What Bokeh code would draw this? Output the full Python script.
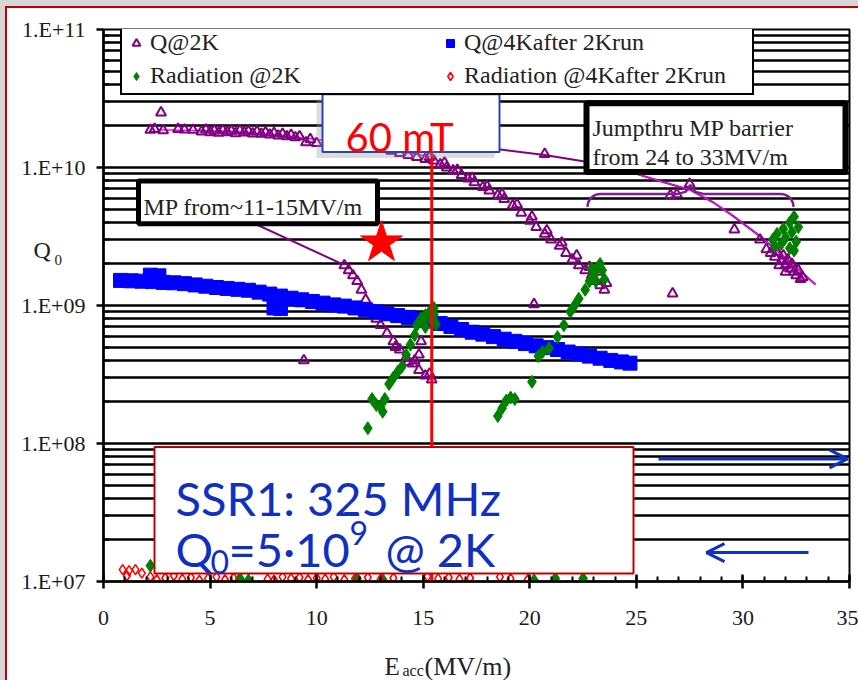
import numpy as np
from bokeh.plotting import figure
from bokeh.models import (Range1d, FixedTicker, SingleIntervalTicker, CustomJSTickFormatter,
                          BoxAnnotation, Label, Arrow, OpenHead, Legend, LegendItem)
from bokeh.embed import file_html
from bokeh.resources import INLINE

# ---------------- data ----------------
y_ticks = [1e7, 1e8, 1e9, 1e10, 1e11]
y_tick_labels = ["1.E+07", "1.E+08", "1.E+09", "1.E+10", "1.E+11"]

# Q @ 2K (purple open triangles)
q2k_plateau_E = [2.2, 2.4, 2.7, 2.8, 3.5, 3.8, 4.2, 4.6, 4.8, 5.0, 5.2, 5.4, 5.6, 5.8, 6.0, 6.2, 6.4,
                 6.6, 6.8, 7.0, 7.2, 7.4, 7.6, 7.8, 8.0, 8.2, 8.4, 8.6, 8.8, 9.0, 9.2, 9.5, 9.7, 10.0,
                 10.5, 11.5, 12.5, 13.5, 13.9, 14.3, 14.7, 15.1]
q2k_plateau_Q = [1.87e10, 1.9e10, 2.5e10, 1.86e10, 1.9e10, 1.88e10, 1.87e10, 1.82e10, 1.88e10, 1.8e10,
                 1.85e10, 1.78e10, 1.86e10, 1.8e10, 1.84e10, 1.77e10, 1.85e10, 1.79e10, 1.83e10, 1.76e10,
                 1.82e10, 1.75e10, 1.8e10, 1.73e10, 1.78e10, 1.7e10, 1.75e10, 1.68e10, 1.72e10, 1.65e10,
                 1.68e10, 1.52e10, 1.6e10, 1.5e10,
                 1.52e10, 1.46e10, 1.4e10, 1.32e10, 1.27e10, 1.23e10, 1.19e10, 1.15e10]
q2k_drop_E = [15.3, 15.5, 15.8, 16.1, 16.4, 16.8, 17.1, 17.4, 17.8, 18.1, 18.5, 18.8, 19.2, 19.6, 20.0,
              20.3, 20.7, 21.0, 21.4, 21.7, 22.0, 22.3, 22.6, 22.9, 23.1, 23.3, 23.5, 23.6, 23.2,
              16.0, 16.6, 17.3, 18.0, 18.7, 19.4, 20.1, 20.8, 21.5, 22.2, 22.8]
q2k_drop_Q = [1.19e10, 1.12e10, 1.05e10, 1.0e10, 9.5e9, 8.8e9, 8.3e9, 7.8e9, 7.2e9, 6.8e9, 6.3e9, 5.9e9,
              5.3e9, 4.7e9, 4.1e9, 3.7e9, 3.3e9, 3.0e9, 2.7e9, 2.4e9, 2.15e9, 1.95e9, 1.8e9, 1.65e9,
              1.5e9, 1.4e9, 1.3e9, 1.45e9, 1.75e9,
              1.08e10, 9.6e9, 8.4e9, 7.3e9, 6.4e9, 5.4e9, 4.4e9, 3.5e9, 2.85e9, 2.3e9, 1.9e9]
q2k_mp_E = [11.3, 11.5, 11.7, 11.9, 12.1, 12.3, 12.6, 12.8, 13.0, 13.3, 13.6, 13.9, 14.2, 14.5, 14.8,
            15.1, 15.4, 15.3, 14.9, 14.8, 14.6, 13.7, 14.3, 9.4, 20.2, 26.7]
q2k_mp_Q = [1.95e9, 1.8e9, 1.65e9, 1.5e9, 1.3e9, 1.1e9, 9.0e8, 8.0e8, 7.2e8, 6.3e8, 5.5e8, 4.8e8, 4.2e8,
            3.8e8, 3.4e8, 3.1e8, 2.9e8, 3.2e8, 5.5e8, 4.4e8, 4.0e8, 5.0e8, 3.9e8, 4.0e8, 1.02e9, 1.22e9]
q2k_jump_E = [20.7, 26.6, 26.9, 27.5, 29.6, 30.8, 31.1, 31.3, 31.5, 31.6, 31.8, 31.9, 32.0, 32.1, 32.2,
              32.3, 32.4, 32.5, 32.6, 32.7, 32.8, 32.0, 31.7]
q2k_jump_Q = [1.25e10, 6.3e9, 6.4e9, 7.6e9, 3.55e9, 3.0e9, 2.55e9, 2.4e9, 2.25e9, 2.45e9, 2.1e9, 2.3e9,
              1.95e9, 2.15e9, 1.85e9, 2.0e9, 1.75e9, 1.65e9, 1.8e9, 1.55e9, 1.6e9, 1.75e9, 1.95e9]

# Q @ 4K after 2K run (blue squares)
q4k_E = [0.8, 1.3, 1.8, 2.3, 2.8, 3.3, 3.8, 4.3, 4.8, 5.3, 5.8, 6.3, 6.8, 7.3, 7.8, 8.3, 8.8, 9.3, 9.8,
         10.3, 10.8, 11.3, 11.8, 12.3, 12.8, 13.3, 13.8, 14.3, 14.8, 15.3, 15.8, 16.3, 16.8, 17.3, 17.8,
         18.3, 18.8, 19.3, 19.8, 20.3, 20.8, 21.3, 21.8, 22.3, 22.8, 23.3, 23.8, 24.3, 24.7,
         2.2, 2.6, 8.0, 8.3]
q4k_Q = [1.52e9, 1.51e9, 1.5e9, 1.49e9, 1.47e9, 1.46e9, 1.44e9, 1.41e9, 1.38e9, 1.35e9, 1.33e9, 1.31e9,
         1.29e9, 1.25e9, 1.21e9, 1.17e9, 1.13e9, 1.1e9, 1.07e9, 1.04e9, 1.01e9, 9.9e8, 9.6e8, 9.3e8,
         9.0e8, 8.7e8, 8.45e8, 8.2e8, 7.95e8, 7.7e8, 7.4e8, 7.05e8, 6.7e8, 6.4e8, 6.2e8, 5.95e8, 5.7e8,
         5.5e8, 5.3e8, 5.1e8, 4.95e8, 4.8e8, 4.6e8, 4.45e8, 4.3e8, 4.15e8, 4.0e8, 3.9e8, 3.82e8,
         1.66e9, 1.64e9, 9.6e8, 9.5e8]

# Radiation @ 2K (green diamonds)
rad2k_E = [2.2, 6.4, 6.8, 11.9, 13.1, 20.2, 21.2, 22.5,
           12.4, 12.6, 12.8, 13.0, 13.2, 13.1, 13.4, 13.6, 13.8, 14.0, 14.2, 14.4, 14.6, 14.7, 14.9,
           15.1, 15.3, 15.5, 15.6, 15.4, 15.1, 15.5,
           18.5, 18.7, 18.9, 19.1, 19.3, 20.1, 20.4, 20.6, 20.9, 21.3, 21.6, 21.9, 22.1, 22.3, 22.6,
           22.8, 23.0, 23.2, 23.4, 23.5, 23.1, 22.9, 23.3,
           31.4, 31.6, 31.8, 31.9, 32.0, 32.2, 32.3, 32.4, 32.5, 32.6, 32.2, 31.5, 32.4]
rad2k_Q = [1.3e7, 1.05e7, 1.02e7, 1.05e7, 1.03e7, 1.02e7, 1.05e7, 1.05e7,
           1.29e8, 2.1e8, 1.9e8, 1.85e8, 2.1e8, 1.7e8, 2.7e8, 3.0e8, 3.3e8, 3.6e8, 4.4e8, 5.2e8, 6.1e8,
           7.2e8, 8.0e8, 8.5e8, 9.0e8, 8.6e8, 7.3e8, 7.8e8, 7.0e8, 9.6e8,
           1.58e8, 1.8e8, 2.05e8, 2.15e8, 2.1e8, 2.8e8, 4.3e8, 4.6e8, 4.9e8, 5.9e8, 7.2e8, 9.0e8, 1.0e9,
           1.12e9, 1.3e9, 1.5e9, 1.7e9, 1.9e9, 1.8e9, 1.55e9, 1.5e9, 1.85e9, 2.0e9,
           3.0e9, 3.3e9, 2.8e9, 3.6e9, 3.1e9, 4.0e9, 3.4e9, 4.4e9, 2.9e9, 3.7e9, 2.6e9, 2.7e9, 2.5e9]

# Radiation @ 4K after 2K run (red open diamonds)
rad4k_E = [0.9, 1.2, 1.5, 1.1, 1.8, 2.2, 2.5, 2.9, 3.3, 3.7, 4.1, 4.5, 4.9, 5.3, 5.7, 6.1, 7.7, 8.0,
           8.4, 8.8, 9.2, 9.6, 10.0, 10.4, 10.8, 11.3, 11.8, 12.4, 13.0, 13.6, 15.2, 15.7, 16.2, 16.7,
           17.2, 18.6, 19.1, 19.9]
rad4k_Q = [1.22e7, 1.2e7, 1.22e7, 1.1e7, 1.15e7, 1.08e7, 1.03e7, 1.06e7, 1.1e7, 1.04e7, 1.07e7, 1.02e7,
           1.05e7, 1.08e7, 1.03e7, 1.06e7, 1.04e7, 1.02e7, 1.08e7, 1.05e7, 1.07e7, 1.03e7, 1.06e7,
           1.04e7, 1.08e7, 1.03e7, 1.05e7, 1.07e7, 1.04e7, 1.06e7, 1.09e7, 1.05e7, 1.07e7, 1.04e7,
           1.06e7, 1.08e7, 1.05e7, 1.03e7]

# trend lines through the Q @ 2K points
trend_E = [18.45, 20.7, 22.5, 24.7, 26.25, 27.5, 28.6, 29.5, 30.95, 32.2, 33.4]
trend_Q = [1.36e10, 1.23e10, 1.11e10, 9.3e9, 7.85e9, 6.9e9, 5.6e9, 4.5e9, 3.05e9, 2.08e9, 1.42e9]
plateau_trend_E = [2.5, 6.0, 10.0, 13.0, 15.3]
plateau_trend_Q = [1.88e10, 1.83e10, 1.6e10, 1.38e10, 1.2e10]

mT60_E = 15.4   # Eacc that corresponds to 60 mT

q2k_E = q2k_plateau_E + q2k_drop_E + q2k_mp_E + q2k_jump_E
q2k_Q = q2k_plateau_Q + q2k_drop_Q + q2k_mp_Q + q2k_jump_Q

# ---------------- figure ----------------
PURPLE = "#800080"
BLUE_TXT = "#1030C0"
SERIF = "Liberation Serif"

# page-pixel -> data helpers for decorations (frame: x 103..849, y 27..581 on the page)
FL, FR, FT, FB = 103.0, 849.0, 27.0, 581.0
def X(px):
    return (px - FL) / (FR - FL) * 35.0
def Y(py):
    return 10 ** (11.0 - (py - FT) / (FB - FT) * 4.0)

p = figure(width=858, height=680, x_range=Range1d(0, 35), y_range=Range1d(1e7, 1e11),
           y_axis_type="log", output_backend="svg", toolbar_location=None,
           min_border_left=103, min_border_right=9, min_border_top=27, min_border_bottom=99)
p.styles = {"background-color": "white",
            "box-shadow": "inset 5px 6px 0 0 #d6d6d6, inset 7px 8px 0 0 #C00000"}
p.background_fill_color = "white"
p.border_fill_color = None
p.outline_line_color = "black"
p.outline_line_width = 2

# axes
p.xaxis.ticker = SingleIntervalTicker(interval=5, num_minor_ticks=5)
p.xaxis.axis_line_width = 2.5
p.xaxis.axis_line_color = "black"
p.xaxis.major_tick_line_color = "black"
p.xaxis.major_tick_line_width = 2.5
p.xaxis.minor_tick_line_color = "black"
p.xaxis.minor_tick_line_width = 2
p.xaxis.major_tick_in = 7
p.xaxis.major_tick_out = 7
p.xaxis.minor_tick_in = 5
p.xaxis.minor_tick_out = 0
p.xaxis.major_label_text_font = SERIF
p.xaxis.major_label_text_font_size = "22px"
p.xaxis.major_label_text_color = "#1a1a1a"
p.xaxis.major_label_standoff = 22

y_minor = [m * 10 ** e for e in range(7, 11) for m in range(2, 10)]
p.yaxis.ticker = FixedTicker(ticks=y_ticks, minor_ticks=y_minor)
p.yaxis.formatter = CustomJSTickFormatter(args=dict(labels=y_tick_labels),
                                          code="return labels[Math.round(Math.log10(tick)) - 7];")
p.yaxis.axis_line_width = 2.5
p.yaxis.axis_line_color = "black"
p.yaxis.major_tick_line_color = "black"
p.yaxis.major_tick_line_width = 2.5
p.yaxis.minor_tick_line_color = "black"
p.yaxis.minor_tick_line_width = 2
p.yaxis.major_tick_in = 0
p.yaxis.major_tick_out = 7
p.yaxis.minor_tick_in = 6
p.yaxis.minor_tick_out = 0
p.yaxis.major_label_text_font = SERIF
p.yaxis.major_label_text_font_size = "22px"
p.yaxis.major_label_text_color = "#1a1a1a"
p.yaxis.major_label_standoff = 11

p.xgrid.visible = False
p.ygrid.grid_line_color = "black"
p.ygrid.grid_line_width = 2.4
p.ygrid.minor_grid_line_color = "black"
p.ygrid.minor_grid_line_width = 2.4

# trend lines
p.line(plateau_trend_E, plateau_trend_Q, line_color="#FF00FF", line_width=1.5)
p.line(trend_E, trend_Q, line_color=PURPLE, line_width=2)
p.line(trend_E[2:], trend_Q[2:], line_color="#FF00FF", line_width=1.2)

# series
r_q2k = p.scatter(q2k_E, q2k_Q, marker="triangle", size=10, line_color=PURPLE, line_width=2,
                  fill_color=None)
r_q4k = p.scatter(q4k_E, q4k_Q, marker="square", size=14, line_color="#0000FF", fill_color="#0000FF")
r_r2k = p.scatter(rad2k_E, rad2k_Q, marker="diamond", size=13, line_color="#008000",
                  fill_color="#008000")
r_r4k = p.scatter(rad4k_E, rad4k_Q, marker="diamond", size=10, line_color="#FF0000", line_width=1.6,
                  fill_color=None)

# 60 mT line (from the axis up to the bottom of the "60 mT" box)
p.line([mT60_E, mT60_E], [y_ticks[0] * 0.9, Y(150)], line_color="#FF0000", line_width=3)

# star
p.scatter([X(381)], [Y(241)], marker="star", size=44, line_color="#FF0000", fill_color="#FF0000")

# pointer line from the MP box
p.line([X(250), X(343)], [Y(220), Y(263)], line_color=PURPLE, line_width=2)

# curly brace above the jump region
r = 13.0
pts = [(600 - r * np.cos(t), 205 - r * np.sin(t)) for t in np.linspace(0, np.pi / 2, 9)]
pts += [(677, 192), (685, 190), (690, 183), (695, 190), (703, 192), (780, 192)]
pts += [(780 + r * np.cos(t), 205 - r * np.sin(t)) for t in np.linspace(np.pi / 2, 0, 9)]
p.line([X(a) for a, b in pts], [Y(b) for a, b in pts], line_color="#7B1F8C", line_width=2.5)

# boxes
def box(l, r_, t, b, fill="white", fill_alpha=1.0, line="black", lw=2, line_alpha=1.0):
    p.add_layout(BoxAnnotation(left=X(l), right=X(r_), top=Y(t), bottom=Y(b),
                               fill_color=fill, fill_alpha=fill_alpha, line_color=line,
                               line_width=lw, line_alpha=line_alpha))

box(316, 494, 97, 156, fill="#9a9a9a", fill_alpha=0.35, line_alpha=0)
box(322, 499, 92, 150, line="#2845B5", lw=2)
box(154, 633, 446, 573, line="#C00000", lw=2)
box(138, 377, 179, 222, lw=5)
box(586, 845, 101, 170, lw=6)

def lab(px, py, text, font, size, color="#222222", place="center"):
    p.add_layout(Label(x=X(px), y=Y(py), text=text, text_font=font, text_font_size=size,
                       text_color=color, text_align="left", text_baseline="alphabetic"), place)

lab(345, 135, "60 mT", "Lato", "40px", "#FF0000")
lab(175, 497, "SSR1: 325 MHz", "Lato", "47px", BLUE_TXT)
lab(175, 548, "Q", "Lato", "47px", BLUE_TXT)
lab(210, 561, "0", "Lato", "32px", BLUE_TXT)
lab(228, 548, "=5·10", "Lato", "47px", BLUE_TXT)
lab(349, 532, "9", "Lato", "32px", BLUE_TXT)
lab(385, 548, "@ 2K", "Lato", "47px", BLUE_TXT)
lab(143, 205, "MP from~11-15MV/m", SERIF, "24px")
lab(592, 126, "Jumpthru MP barrier", SERIF, "24px")
lab(592, 155, "from 24 to 33MV/m", SERIF, "24px")

# axis titles: placed in the (otherwise partly empty) side panels so that the frame does not
# clip them; their data coordinates still put them at the reference's spots
lab(33, 248, "Q", SERIF, "24px", place="left")
lab(54, 258, "0", SERIF, "15px", place="right")
lab(384, 666, "E", SERIF, "25px", place="below")
lab(402, 670, "acc", SERIF, "16px", place="below")
lab(424, 666, "(MV/m)", SERIF, "26px", place="above")

# arrows
p.add_layout(Arrow(end=OpenHead(size=18, line_color=BLUE_TXT, line_width=3),
                   x_start=X(658), y_start=Y(458), x_end=X(847), y_end=Y(458),
                   line_color=BLUE_TXT, line_width=3))
p.add_layout(Arrow(end=OpenHead(size=18, line_color=BLUE_TXT, line_width=3),
                   x_start=X(808), y_start=Y(552), x_end=X(706), y_end=Y(552),
                   line_color=BLUE_TXT, line_width=3))

# legend
legend = Legend(items=[LegendItem(label="Q@2K", renderers=[r_q2k]),
                       LegendItem(label="Q@4Kafter 2Krun", renderers=[r_q4k]),
                       LegendItem(label="Radiation @2K", renderers=[r_r2k]),
                       LegendItem(label="Radiation @4Kafter 2Krun", renderers=[r_r4k])],
                orientation="horizontal", ncols=2, location=(17, 486),
                border_line_color="black", border_line_width=2, border_line_alpha=1.0,
                background_fill_color="white", background_fill_alpha=1,
                label_text_font=SERIF, label_text_font_size="24px",
                label_text_color="#222222", glyph_width=20, glyph_height=20, label_height=20,
                label_width=284, label_standoff=4, spacing=6, padding=4, margin=0)
p.add_layout(legend)

open("out.html", "w").write(file_html(p, INLINE))
